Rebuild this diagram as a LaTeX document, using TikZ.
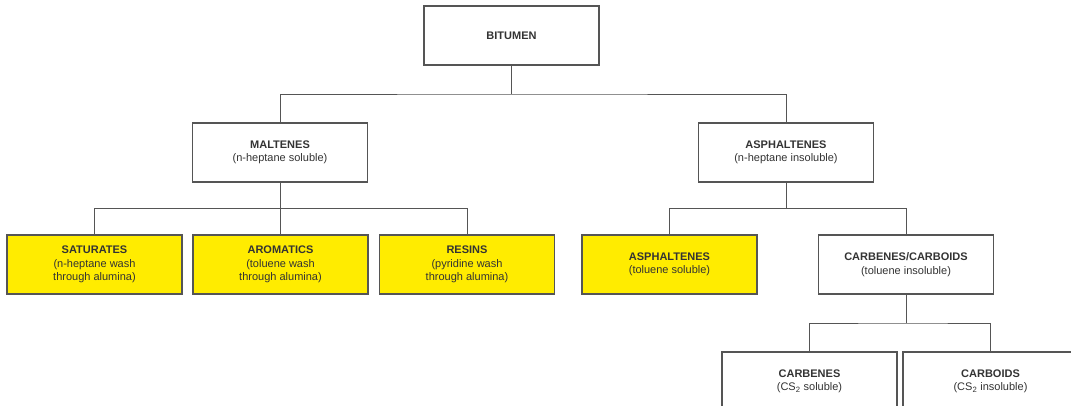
\documentclass[tikz,border=0pt]{standalone}
\usepackage{fontspec}
\setmainfont{Liberation Sans}
\usetikzlibrary{positioning,calc}
\definecolor{boxyellow}{RGB}{255,236,0}
\definecolor{linegray}{RGB}{85,85,85}

\begin{document}
\begin{tikzpicture}[x=1pt,y=-1pt,
    every node/.style = {align=center},
    fraction/.style = {draw=linegray, line width=1.2pt, fill=white,
      minimum width=175pt, minimum height=59pt, inner sep=0pt,
      text=black!80, font=\fontsize{11}{13.5}\selectfont},
    washed/.style = {fraction, fill=boxyellow},
    link/.style = {draw=linegray, line width=1pt}]
    \clip (0,0) rectangle (1071,405);
    \useasboundingbox (0,0) rectangle (1071,405);
    % top of the tree
    \node[fraction] (bitumen) at (511.5,35.5) {\textbf{BITUMEN}};
    \node[fraction] (maltenes) at (280,152.5) {\textbf{MALTENES}\\(n-heptane soluble)};
    \node[fraction] (asph) at (786,152.5) {\textbf{ASPHALTENES}\\(n-heptane insoluble)};
    % maltene fractions
    \node[washed] (saturates) at (94.5,264.5) {\textbf{SATURATES}\\(n-heptane wash\\through alumina)};
    \node[washed] (aromatics) at (280.5,264.5) {\textbf{AROMATICS}\\(toluene wash\\through alumina)};
    \node[washed] (resins) at (467,264.5) {\textbf{RESINS}\\(pyridine wash\\through alumina)};
    % asphaltene fractions
    \node[washed] (asphsol) at (669.5,264.5) {\textbf{ASPHALTENES}\\(toluene soluble)};
    \node[fraction] (carbcarb) at (906,264.5) {\textbf{CARBENES/CARBOIDS}\\(toluene insoluble)};
    \node[fraction] (carbenes) at (809.5,381.5) {\textbf{CARBENES}\\(CS\textsubscript{2} soluble)};
    \node[fraction] (carboids) at (990.5,381.5) {\textbf{CARBOIDS}\\(CS\textsubscript{2} insoluble)};

    \coordinate (f1) at ($(bitumen.south)!.5!(bitumen.south |- maltenes.north)$);
    \coordinate (f2) at ($(maltenes.south)!.5!(maltenes.south |- aromatics.north)$);
    \coordinate (f3) at ($(asph.south)!.5!(asph.south |- asphsol.north)$);
    \coordinate (f4) at ($(carbcarb.south)!.5!(carbcarb.south |- carbenes.north)$);

    \draw[link] (bitumen.south) -- (f1);
    \draw[link] (maltenes.north) |- (f1) -| (asph.north);
    \draw[link] (maltenes.south) -- (f2);
    \draw[link] (saturates.north) |- (f2) -| (resins.north);
    \draw[link] (aromatics.north) -- (aromatics.north |- f2);
    \draw[link] (asph.south) -- (f3);
    \draw[link] (asphsol.north) |- (f3) -| (carbcarb.north);
    \draw[link] (carbcarb.south) -- (f4);
    \draw[link] (carbenes.north) |- (f4) -| (carboids.north);
  \end{tikzpicture}
\end{document}
